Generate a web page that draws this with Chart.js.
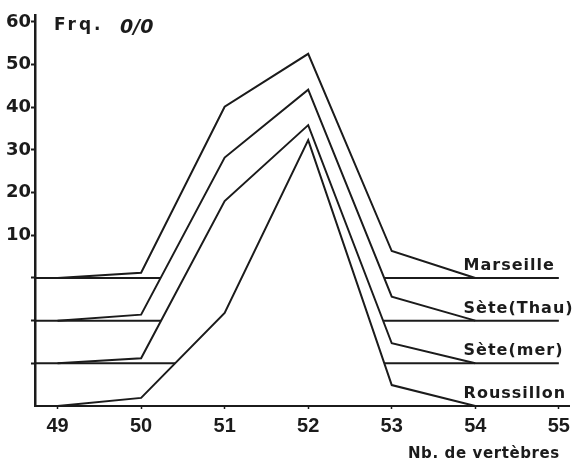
<!DOCTYPE html>
<html>
<head>
<meta charset="utf-8">
<script src="https://cdn.jsdelivr.net/npm/chart.js@4.4.1/dist/chart.umd.min.js"></script>
<style>
  html, body { margin: 0; padding: 0; background: #fff; }
  #wrap { width: 575px; height: 462px; }
</style>
</head>
<body>
<div id="wrap"><canvas id="vertChart"></canvas></div>
<script>
// ---------------------------------
// DATA
// ---------------------------------
const vertebrae = [49, 50, 51, 52, 53, 54];

// frequency in % for each locality
const marseille  = [0, 1.2, 40.1, 52.5, 6.3, 0];
const seteThau   = [0, 1.4, 38.2, 54.1, 5.6, 0];
const seteMer    = [0, 1.2, 38.0, 55.8, 4.7, 0];
const roussillon = [0, 1.9, 21.8, 62.3, 4.9, 0];

const localities = ["Marseille", "Sète(Thau)", "Sète(mer)", "Roussillon"];

// every curve is drawn on its own baseline, one step lower each time
const baselines = [0, -10, -20, -30];

const yTickValues = [-20, -10, 0, 10, 20, 30, 40, 50, 60];
const xTickValues = [49, 50, 51, 52, 53, 54, 55];

const xMin = 48.73, xMax = 55.13;
const yMin = -30, yMax = 61.6;

const ink = "#1b1b1b";

// ---------------------------------
// BUILD DATASETS
// ---------------------------------
const series = [marseille, seteThau, seteMer, roussillon];
const datasets = [];

series.forEach((freq, i) => {
    const base = baselines[i];
    // back curves get a higher order so they are painted first
    const rank = (series.length - i) * 2;

    // the polygon, filled white so it hides whatever is behind it
    datasets.push({
        label: localities[i],
        data: freq.map((f, j) => ({ x: vertebrae[j], y: base + f })),
        borderColor: ink,
        borderWidth: 2,
        backgroundColor: "#ffffff",
        fill: { value: base },
        pointRadius: 0,
        tension: 0,
        borderJoinStyle: "miter",
        order: rank
    });

    // the baseline running across the whole plot
    const lastX = i === series.length - 1 ? xMax : xTickValues[xTickValues.length - 1];
    datasets.push({
        label: localities[i] + " base",
        data: [{ x: xMin, y: base }, { x: lastX, y: base }],
        borderColor: ink,
        borderWidth: 2,
        fill: false,
        pointRadius: 0,
        order: rank - 1
    });
});

// ---------------------------------
// TEXT LABELS
// ---------------------------------
const annotate = {
    id: "annotate",
    afterDatasetsDraw(chart) {
        const { ctx, scales: { x, y } } = chart;
        ctx.save();
        ctx.fillStyle = ink;
        ctx.textBaseline = "alphabetic";
        ctx.textAlign = "left";

        // locality names above the right end of each baseline
        ctx.font = 'bold 16px "DejaVu Sans"';
        ctx.letterSpacing = "1px";
        localities.forEach((name, i) => {
            ctx.fillText(name, x.getPixelForValue(53.86), y.getPixelForValue(baselines[i]) - 8);
        });

        // y axis title
        ctx.font = 'bold 17px "DejaVu Sans"';
        ctx.letterSpacing = "3px";
        ctx.fillText("Frq.", x.left + 19, y.getPixelForValue(60) + 8);
        ctx.font = 'italic bold 19px "DejaVu Sans"';
        ctx.letterSpacing = "0px";
        ctx.fillText("0/0", x.left + 85, y.getPixelForValue(60) + 11);

        // x axis title
        ctx.font = 'bold 15px "DejaVu Sans"';
        ctx.letterSpacing = "0.6px";
        ctx.textAlign = "right";
        ctx.fillText("Nb. de vertèbres", x.getPixelForValue(55) + 1, chart.height - 4);

        ctx.restore();
    }
};

// ---------------------------------
// CHART
// ---------------------------------
const ctx = document.getElementById("vertChart").getContext("2d");

new Chart(ctx, {
    type: "line",
    data: { datasets: datasets },
    options: {
        responsive: true,
        maintainAspectRatio: false,
        animation: false,
        layout: {
            autoPadding: false,
            padding: { top: 15, right: 2, bottom: 0, left: 0 }
        },
        plugins: {
            legend: { display: false },
            tooltip: { enabled: false }
        },
        scales: {
            x: {
                type: "linear",
                min: xMin,
                max: xMax,
                afterBuildTicks: scale => {
                    scale.ticks = xTickValues.map(v => ({ value: v }));
                },
                afterFit: scale => { scale.height = 56; },
                ticks: {
                    color: ink,
                    padding: 5,
                    maxRotation: 0,
                    font: { family: "Liberation Sans", size: 20, weight: "bold" }
                },
                grid: {
                    drawOnChartArea: false,
                    tickLength: 3,
                    tickColor: ink,
                    tickWidth: 1.5
                },
                border: { display: true, color: ink, width: 2 }
            },
            y: {
                min: yMin,
                max: yMax,
                afterBuildTicks: scale => {
                    scale.ticks = yTickValues.map(v => ({ value: v }));
                },
                afterFit: scale => { scale.width = 35; },
                ticks: {
                    color: ink,
                    padding: 0,
                    callback: v => (v > 0 ? String(v) : ""),
                    font: { family: "DejaVu Sans", size: 18, weight: "bold" }
                },
                grid: {
                    drawOnChartArea: false,
                    tickLength: 4,
                    tickColor: ink,
                    tickWidth: 2
                },
                border: { display: true, color: ink, width: 2.5 }
            }
        }
    },
    plugins: [annotate]
});
</script>
</body>
</html>
